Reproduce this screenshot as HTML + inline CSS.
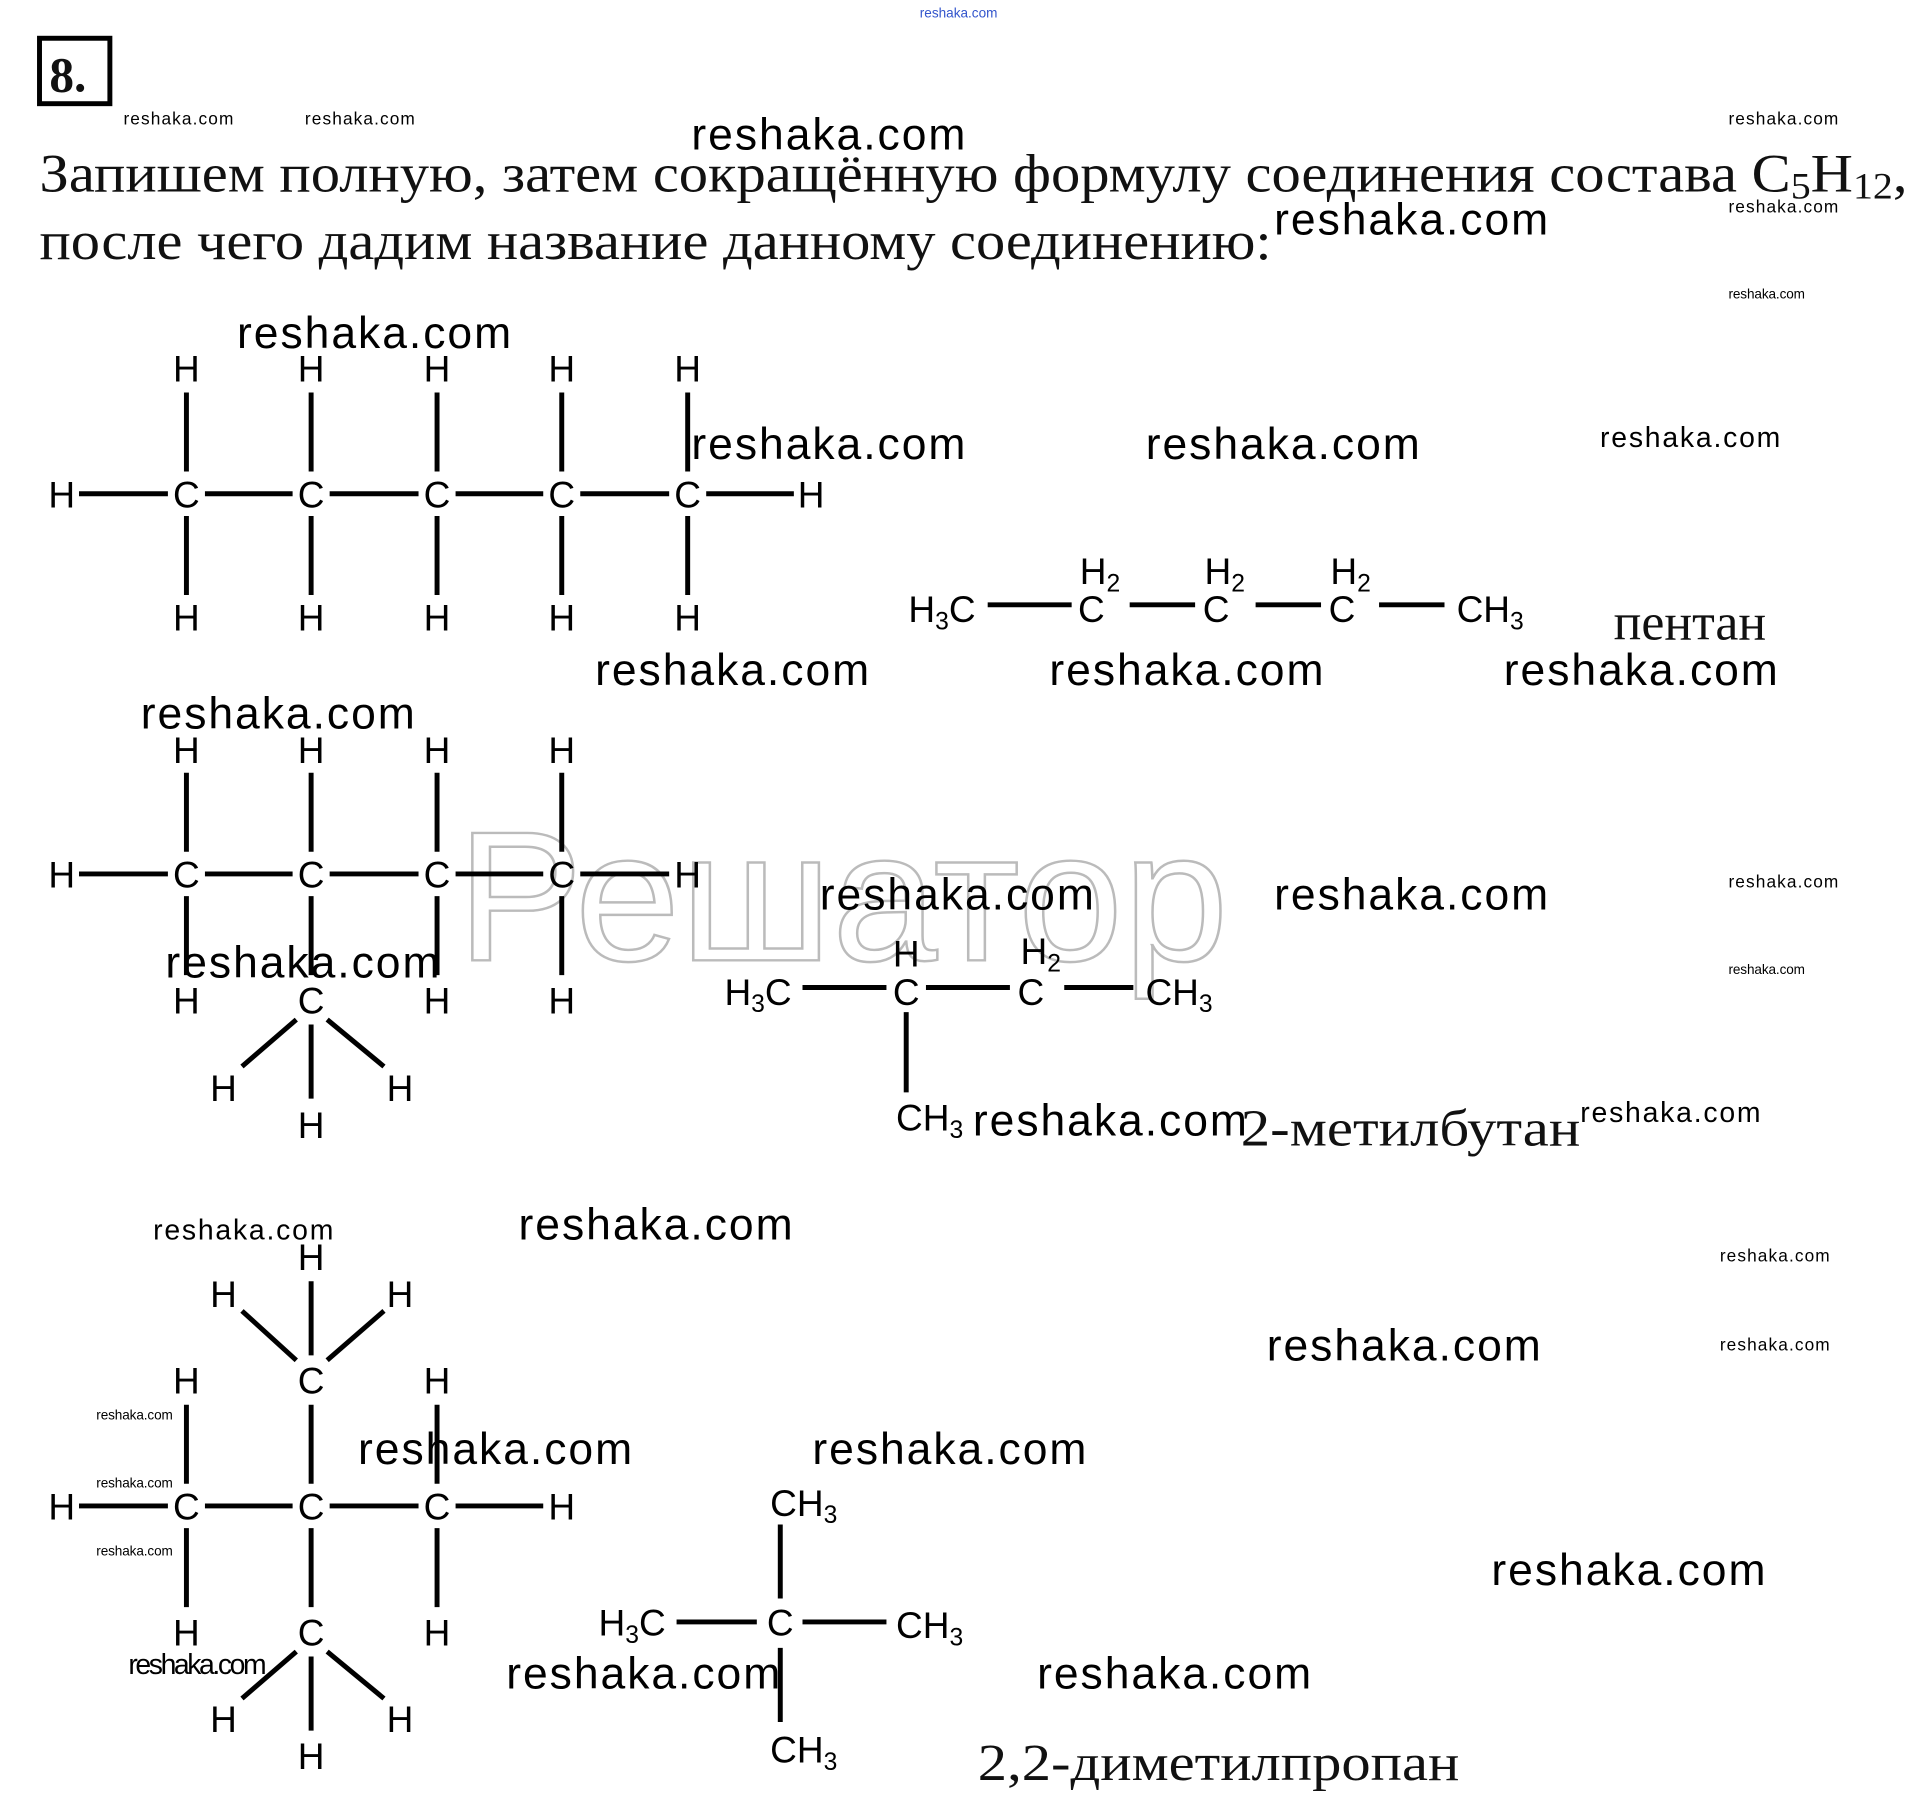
<!DOCTYPE html>
<html><head><meta charset="utf-8"><style>
html,body{margin:0;padding:0;background:#fff;}
svg{display:block;}
.s{font-family:"Liberation Serif",serif;fill:#111;}
.a{font-family:"Liberation Sans",sans-serif;fill:#000;font-size:30px;text-anchor:middle;}
.w{font-family:"Liberation Sans",sans-serif;fill:#000;}
line{stroke:#000;stroke-width:4;}
</style></head><body>
<svg width="1926" height="1796" viewBox="0 0 1560 1455" preserveAspectRatio="none" xmlns="http://www.w3.org/2000/svg">
<text x="745" y="14" class="w" style="font-size:11px;fill:#3355cc">reshaka.com</text>
<rect x="32" y="31" width="57" height="53" fill="none" stroke="#000" stroke-width="4"/>
<text x="40" y="74" class="s" style="font-size:40px;font-weight:bold">8.</text>
<text x="32" y="155" class="s" style="font-size:44px" textLength="1513" lengthAdjust="spacingAndGlyphs">Запишем полную, затем сокращённую формулу соединения состава C<tspan font-size="30" dy="6">5</tspan><tspan dy="-6">H</tspan><tspan font-size="30" dy="6">12</tspan><tspan dy="-6">,</tspan></text>
<text x="32" y="210" class="s" style="font-size:44px" textLength="998" lengthAdjust="spacingAndGlyphs">после чего дадим название данному соединению:</text>

<text x="370" y="778" style="font-family:'Liberation Sans',sans-serif;font-size:150px;fill:#fff;stroke:#bbb;stroke-width:2" textLength="625" lengthAdjust="spacingAndGlyphs">Решатор</text>

<!-- structure 1 -->
<g class="a">
<text x="151" y="309">H</text><text x="252" y="309">H</text><text x="354" y="309">H</text><text x="455" y="309">H</text><text x="557" y="309">H</text>
<text x="50" y="411">H</text><text x="151" y="411">C</text><text x="252" y="411">C</text><text x="354" y="411">C</text><text x="455" y="411">C</text><text x="557" y="411">C</text><text x="657" y="411">H</text>
<text x="151" y="511">H</text><text x="252" y="511">H</text><text x="354" y="511">H</text><text x="455" y="511">H</text><text x="557" y="511">H</text>
</g>
<g>
<line x1="151" y1="318" x2="151" y2="382"/><line x1="252" y1="318" x2="252" y2="382"/><line x1="354" y1="318" x2="354" y2="382"/><line x1="455" y1="318" x2="455" y2="382"/><line x1="557" y1="318" x2="557" y2="382"/>
<line x1="151" y1="418" x2="151" y2="482"/><line x1="252" y1="418" x2="252" y2="482"/><line x1="354" y1="418" x2="354" y2="482"/><line x1="455" y1="418" x2="455" y2="482"/><line x1="557" y1="418" x2="557" y2="482"/>
<line x1="64" y1="400" x2="136" y2="400"/><line x1="166" y1="400" x2="237" y2="400"/><line x1="267" y1="400" x2="339" y2="400"/><line x1="369" y1="400" x2="440" y2="400"/><line x1="470" y1="400" x2="542" y2="400"/><line x1="572" y1="400" x2="643" y2="400"/>
</g>
<g class="a">
<text x="763" y="504">H<tspan font-size="20" dy="6">3</tspan><tspan dy="-6">C</tspan></text>
<text x="891" y="473">H<tspan font-size="20" dy="6">2</tspan></text><text x="884" y="504">C</text>
<text x="992" y="473">H<tspan font-size="20" dy="6">2</tspan></text><text x="985" y="504">C</text>
<text x="1094" y="473">H<tspan font-size="20" dy="6">2</tspan></text><text x="1087" y="504">C</text>
<text x="1207" y="504">CH<tspan font-size="20" dy="6">3</tspan></text>
</g>
<line x1="800" y1="490" x2="868" y2="490"/><line x1="915" y1="490" x2="968" y2="490"/><line x1="1017" y1="490" x2="1070" y2="490"/><line x1="1117" y1="490" x2="1170" y2="490"/>
<text x="1307" y="518" class="s" style="font-size:42px">пентан</text>

<!-- structure 2 -->
<g class="a">
<text x="151" y="618">H</text><text x="252" y="618">H</text><text x="354" y="618">H</text><text x="455" y="618">H</text>
<text x="50" y="719">H</text><text x="151" y="719">C</text><text x="252" y="719">C</text><text x="354" y="719">C</text><text x="455" y="719">C</text><text x="557" y="719">H</text>
<text x="151" y="821">H</text><text x="252" y="821">C</text><text x="354" y="821">H</text><text x="455" y="821">H</text>
<text x="181" y="892">H</text><text x="324" y="892">H</text><text x="252" y="922">H</text>
</g>
<g>
<line x1="151" y1="626" x2="151" y2="690"/><line x1="252" y1="626" x2="252" y2="690"/><line x1="354" y1="626" x2="354" y2="690"/><line x1="455" y1="626" x2="455" y2="690"/>
<line x1="151" y1="726" x2="151" y2="790"/><line x1="252" y1="726" x2="252" y2="790"/><line x1="354" y1="726" x2="354" y2="790"/><line x1="455" y1="726" x2="455" y2="790"/>
<line x1="64" y1="708" x2="136" y2="708"/><line x1="166" y1="708" x2="237" y2="708"/><line x1="267" y1="708" x2="339" y2="708"/><line x1="369" y1="708" x2="440" y2="708"/><line x1="470" y1="708" x2="542" y2="708"/>
<line x1="240" y1="826" x2="196" y2="864"/><line x1="265" y1="826" x2="311" y2="864"/><line x1="252" y1="830" x2="252" y2="890"/>
</g>
<g class="a">
<text x="614" y="814">H<tspan font-size="20" dy="6">3</tspan><tspan dy="-6">C</tspan></text>
<text x="734" y="783">H</text><text x="734" y="814">C</text>
<text x="843" y="781">H<tspan font-size="20" dy="6">2</tspan></text><text x="835" y="814">C</text>
<text x="955" y="814">CH<tspan font-size="20" dy="6">3</tspan></text>
<text x="753" y="916">CH<tspan font-size="20" dy="6">3</tspan></text>
</g>
<line x1="650" y1="800" x2="718" y2="800"/><line x1="750" y1="800" x2="818" y2="800"/><line x1="862" y1="800" x2="918" y2="800"/><line x1="734" y1="820" x2="734" y2="885"/>
<text x="1005" y="928" class="s" style="font-size:42px" textLength="275" lengthAdjust="spacingAndGlyphs">2-метилбутан</text>

<!-- structure 3 -->
<g class="a">
<text x="252" y="1029">H</text><text x="181" y="1059">H</text><text x="324" y="1059">H</text>
<text x="151" y="1129">H</text><text x="252" y="1129">C</text><text x="354" y="1129">H</text>
<text x="50" y="1231">H</text><text x="151" y="1231">C</text><text x="252" y="1231">C</text><text x="354" y="1231">C</text><text x="455" y="1231">H</text>
<text x="151" y="1333">H</text><text x="252" y="1333">C</text><text x="354" y="1333">H</text>
<text x="181" y="1403">H</text><text x="324" y="1403">H</text><text x="252" y="1433">H</text>
</g>
<g>
<line x1="252" y1="1038" x2="252" y2="1098"/><line x1="196" y1="1062" x2="240" y2="1102"/><line x1="311" y1="1062" x2="265" y2="1102"/>
<line x1="151" y1="1138" x2="151" y2="1202"/><line x1="252" y1="1138" x2="252" y2="1202"/><line x1="354" y1="1138" x2="354" y2="1202"/>
<line x1="151" y1="1238" x2="151" y2="1302"/><line x1="252" y1="1238" x2="252" y2="1302"/><line x1="354" y1="1238" x2="354" y2="1302"/>
<line x1="64" y1="1220" x2="136" y2="1220"/><line x1="166" y1="1220" x2="237" y2="1220"/><line x1="267" y1="1220" x2="339" y2="1220"/><line x1="369" y1="1220" x2="440" y2="1220"/>
<line x1="240" y1="1338" x2="196" y2="1376"/><line x1="265" y1="1338" x2="311" y2="1376"/><line x1="252" y1="1342" x2="252" y2="1402"/>
</g>
<g class="a">
<text x="651" y="1228">CH<tspan font-size="20" dy="6">3</tspan></text>
<text x="512" y="1325">H<tspan font-size="20" dy="6">3</tspan><tspan dy="-6">C</tspan></text>
<text x="632" y="1325">C</text>
<text x="753" y="1327">CH<tspan font-size="20" dy="6">3</tspan></text>
<text x="651" y="1428">CH<tspan font-size="20" dy="6">3</tspan></text>
</g>
<line x1="632" y1="1235" x2="632" y2="1295"/><line x1="632" y1="1335" x2="632" y2="1395"/><line x1="548" y1="1314" x2="613" y2="1314"/><line x1="650" y1="1314" x2="718" y2="1314"/>
<text x="792" y="1442" class="s" style="font-size:42px" textLength="390" lengthAdjust="spacingAndGlyphs">2,2-диметилпропан</text>

<!-- watermarks -->
<g class="w" style="font-size:36px">
<text x="560" y="121" textLength="222">reshaka.com</text>
<text x="1032" y="190" textLength="222">reshaka.com</text>
<text x="192" y="282" textLength="222">reshaka.com</text>
<text x="560" y="372" textLength="222">reshaka.com</text>
<text x="928" y="372" textLength="222">reshaka.com</text>
<text x="482" y="555" textLength="222">reshaka.com</text>
<text x="850" y="555" textLength="222">reshaka.com</text>
<text x="1218" y="555" textLength="222">reshaka.com</text>
<text x="114" y="590" textLength="222">reshaka.com</text>
<text x="664" y="737" textLength="222">reshaka.com</text>
<text x="1032" y="737" textLength="222">reshaka.com</text>
<text x="134" y="792" textLength="222">reshaka.com</text>
<text x="788" y="920" textLength="222">reshaka.com</text>
<text x="420" y="1004" textLength="222">reshaka.com</text>
<text x="1026" y="1102" textLength="222">reshaka.com</text>
<text x="290" y="1186" textLength="222">reshaka.com</text>
<text x="658" y="1186" textLength="222">reshaka.com</text>
<text x="1208" y="1284" textLength="222">reshaka.com</text>
<text x="410" y="1368" textLength="222">reshaka.com</text>
<text x="840" y="1368" textLength="222">reshaka.com</text>
</g>
<g class="w" style="font-size:23px">
<text x="1296" y="362" textLength="146">reshaka.com</text>
<text x="1280" y="909" textLength="146">reshaka.com</text>
<text x="124" y="1004" textLength="146">reshaka.com</text>
<text x="104" y="1356" textLength="112">reshaka.com</text>
</g>
<g class="w" style="font-size:14px">
<text x="100" y="101" textLength="89">reshaka.com</text>
<text x="247" y="101" textLength="89">reshaka.com</text>
<text x="1400" y="101" textLength="89">reshaka.com</text>
<text x="1400" y="172" textLength="89">reshaka.com</text>
<text x="1400" y="719" textLength="89">reshaka.com</text>
<text x="1393" y="1022" textLength="89">reshaka.com</text>
<text x="1393" y="1094" textLength="89">reshaka.com</text>
</g>
<g class="w" style="font-size:11px">
<text x="1400" y="242" textLength="62">reshaka.com</text>
<text x="1400" y="789" textLength="62">reshaka.com</text>
<text x="78" y="1150" textLength="62">reshaka.com</text>
<text x="78" y="1205" textLength="62">reshaka.com</text>
<text x="78" y="1260" textLength="62">reshaka.com</text>
</g>
</svg>
</body></html>
